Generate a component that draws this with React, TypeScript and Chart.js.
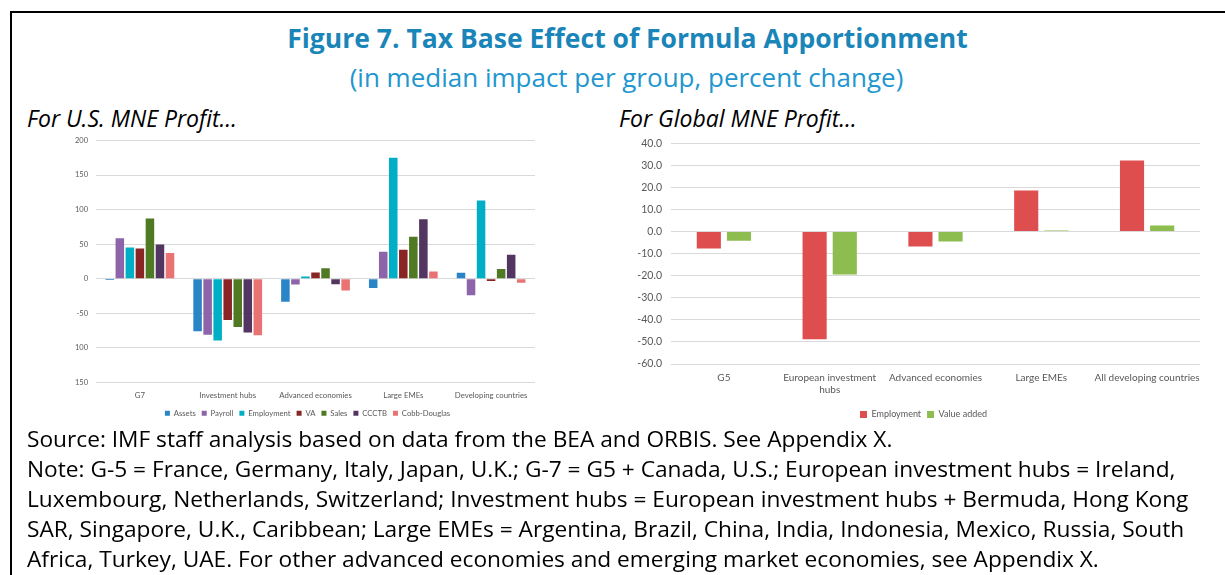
import React, { useEffect, useRef } from 'react';
import { Chart, registerables } from 'chart.js';
Chart.register(...registerables);

// ---- Left chart data (For U.S. MNE Profit) ----
const leftCategories = ['G7', 'Investment hubs', 'Advanced economies', 'Large EMEs', 'Developing countries'];
const assets = [-2, -76, -33.5, -13.5, 8.5];
const payroll = [58.5, -81, -8.5, 39, -24];
const employmentUS = [45, -89.5, 3, 175, 113];
const va = [43.5, -60, 9, 42, -3.5];
const sales = [87, -70, 15, 60.5, 14];
const ccctb = [49.5, -78, -8, 86, 34.5];
const cobbDouglas = [37, -82, -17, 10.5, -6];
const leftTickValues = [200, 150, 100, 50, 0, -50, -100, -150];
const leftTickLabels = ['200', '150', '100', '50', '0', '-50', '100', '150'];

// ---- Right chart data (For Global MNE Profit) ----
const rightCategories = ['G5', ['European investment', 'hubs'], 'Advanced economies', 'Large EMEs', 'All developing countries'];
const employmentGlobal = [-7.7, -48.8, -6.8, 18.6, 32.2];
const valueAdded = [-4.1, -19.4, -4.5, 0.5, 2.7];

const noteLines = [
  'Source: IMF staff analysis based on data from the BEA and ORBIS. See Appendix X.',
  'Note: G-5 = France, Germany, Italy, Japan, U.K.; G-7 = G5 + Canada, U.S.; European investment hubs = Ireland,',
  'Luxembourg, Netherlands, Switzerland; Investment hubs = European investment hubs + Bermuda, Hong Kong',
  'SAR, Singapore, U.K., Caribbean; Large EMEs = Argentina, Brazil, China, India, Indonesia, Mexico, Russia, South',
  'Africa, Turkey, UAE. For other advanced economies and emerging market economies, see Appendix X.',
];

const tickColor = '#595959';
const gridColor = '#d9d9d9';
const chartFont = 'Lato, "Noto Sans", sans-serif';
const textFont = '"Open Sans", "Noto Sans", sans-serif';

// shifts the legend horizontally so that it is centred where the original sits
const legendShift = (dx: number) => ({
  id: 'legendShift',
  afterLayout(chart: any) {
    if (chart.legend) {
      chart.legend.left += dx;
      chart.legend.right += dx;
    }
  },
});

function LeftChart() {
  const ref = useRef<HTMLCanvasElement>(null);
  useEffect(() => {
    const ds = (label: string, data: number[], color: string) => ({
      label, data, backgroundColor: color, borderWidth: 0,
      categoryPercentage: 0.8, barPercentage: 0.85,
    });
    const chart = new Chart(ref.current!, {
      type: 'bar',
      data: {
        labels: leftCategories,
        datasets: [
          ds('Assets', assets, '#2b84c6'),
          ds('Payroll', payroll, '#8d63a9'),
          ds('Employment', employmentUS, '#00afc6'),
          ds('VA', va, '#8a2525'),
          ds('Sales', sales, '#4f7a23'),
          ds('CCCTB', ccctb, '#533561'),
          ds('Cobb-Douglas', cobbDouglas, '#e87372'),
        ],
      },
      plugins: [legendShift(30)],
      options: {
        animation: false,
        responsive: false,
        maintainAspectRatio: false,
        layout: { padding: { left: 0, right: 15, top: 11, bottom: 0 } },
        plugins: {
          legend: {
            position: 'bottom',
            labels: { boxWidth: 5, boxHeight: 5, padding: 6, color: tickColor, font: { family: chartFont, size: 7.7 } },
          },
          tooltip: { enabled: false },
        },
        scales: {
          x: {
            grid: { display: false, drawTicks: false },
            border: { display: false },
            ticks: { color: tickColor, font: { family: chartFont, size: 7.8 }, padding: 8, maxRotation: 0, autoSkip: false },
            afterFit: (s: any) => { s.height = 21; },
          },
          y: {
            min: -150, max: 200,
            ticks: {
              stepSize: 50, padding: 8, color: tickColor, font: { family: chartFont, size: 7.5 },
              callback: (v: any) => { const i = leftTickValues.indexOf(Number(v)); return i >= 0 ? leftTickLabels[i] : ''; },
            },
            grid: { color: gridColor, drawTicks: false, lineWidth: 1 },
            border: { display: false },
            afterFit: (s: any) => { s.width = 76; },
          },
        },
      },
    });
    return () => chart.destroy();
  }, []);
  return <canvas ref={ref} width={530} height={299} style={{ position: 'absolute', left: 20, top: 128, width: 530, height: 299 }} />;
}

function RightChart() {
  const ref = useRef<HTMLCanvasElement>(null);
  useEffect(() => {
    const ds = (label: string, data: number[], color: string) => ({
      label, data, backgroundColor: color, borderWidth: 0,
      categoryPercentage: 0.57, barPercentage: 0.8,
    });
    const chart = new Chart(ref.current!, {
      type: 'bar',
      data: {
        labels: rightCategories,
        datasets: [
          ds('Employment', employmentGlobal, '#df4e4e'),
          ds('Value added', valueAdded, '#8cbd4e'),
        ],
      },
      plugins: [legendShift(21)],
      options: {
        animation: false,
        responsive: false,
        maintainAspectRatio: false,
        layout: { padding: { left: 0, right: 25, top: 13, bottom: 0 } },
        plugins: {
          legend: {
            position: 'bottom',
            labels: { boxWidth: 7, boxHeight: 7, padding: 6, color: tickColor, font: { family: chartFont, size: 9 } },
          },
          tooltip: { enabled: false },
        },
        scales: {
          x: {
            grid: { display: false, drawTicks: false },
            border: { display: false },
            ticks: { color: tickColor, font: { family: chartFont, size: 10 }, padding: 8, maxRotation: 0, autoSkip: false },
            afterFit: (s: any) => { s.height = 40; },
          },
          y: {
            min: -60, max: 40,
            ticks: {
              stepSize: 10, padding: 9, color: tickColor, font: { family: chartFont, size: 10.5 },
              callback: (v: any) => Number(v).toFixed(1),
            },
            grid: { color: gridColor, drawTicks: false, lineWidth: 1 },
            border: { display: false },
            afterFit: (s: any) => { s.width = 66; },
          },
        },
      },
    });
    return () => chart.destroy();
  }, []);
  return <canvas ref={ref} width={620} height={301} style={{ position: 'absolute', left: 605, top: 128, width: 620, height: 301 }} />;
}

export default function App() {
  return (
    <div style={{ position: 'fixed', left: 0, top: 0, width: 1225, height: 575, overflow: 'hidden', background: '#fff' }}>
      <div style={{ position: 'absolute', left: 10, top: 11, width: 1240, height: 620, border: '2px solid #000', boxSizing: 'border-box' }} />
      <div style={{ position: 'absolute', left: 0, width: 1255, top: 20, textAlign: 'center', font: `bold 26.5px ${textFont}`, lineHeight: '36px', color: '#1a85b8', whiteSpace: 'nowrap' }}>
        Figure 7. Tax Base Effect of Formula Apportionment
      </div>
      <div style={{ position: 'absolute', left: 0, width: 1253, top: 59, textAlign: 'center', font: `26px ${textFont}`, lineHeight: '36px', color: '#2196cf', whiteSpace: 'nowrap' }}>
        (in median impact per group, percent change)
      </div>
      <div style={{ position: 'absolute', left: 27, top: 103, font: `italic 23px ${textFont}`, lineHeight: '30px', color: '#000', whiteSpace: 'nowrap' }}>
        For U.S. MNE Profit…
      </div>
      <div style={{ position: 'absolute', left: 619, top: 103, font: `italic 23px ${textFont}`, lineHeight: '30px', color: '#000', whiteSpace: 'nowrap' }}>
        For Global MNE Profit…
      </div>
      <LeftChart />
      <RightChart />
      <div style={{ position: 'absolute', left: 27, top: 424, font: `22.7px ${textFont}`, lineHeight: '30px', color: '#000' }}>
        {noteLines.map((l, i) => (
          <div key={i} style={{ whiteSpace: 'nowrap' }}>{l}</div>
        ))}
      </div>
    </div>
  );
}
